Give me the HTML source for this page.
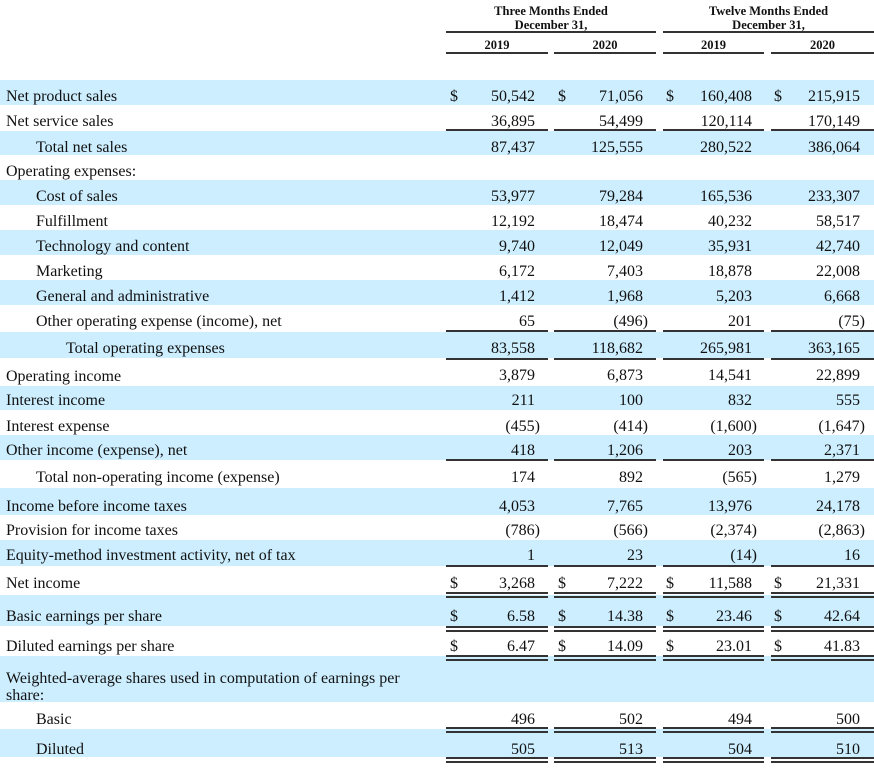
<!DOCTYPE html>
<html><head><meta charset="utf-8"><style>
body{margin:0;width:874px;height:765px;background:#fff;position:relative;overflow:hidden;font-family:"Liberation Serif",serif;font-size:16px;color:#111}
.r{position:absolute;left:0;width:874px}
.b{background:#cceeff}
.l{position:absolute;white-space:nowrap;top:2px}
.n{position:absolute;text-align:right;white-space:nowrap;top:2px}
.c1{left:440px;width:95px}.c2{left:548px;width:95px}.c3{left:656px;width:96px}.c4{left:764px;width:96px}
.d{position:absolute;top:2px}
.d1{left:450px}.d2{left:558px}.d3{left:666px}.d4{left:774px}
.p{margin-right:-5px}
.u{position:absolute;height:2px;background:#333}
.u1{left:446px;width:102px}.u2{left:554px;width:102px}.u3{left:663px;width:101px}.u4{left:771px;width:103px}
.h{position:absolute;font-weight:bold;font-size:12.5px;text-align:center;line-height:14px}
</style></head><body>
<div class="h" style="left:446px;width:210px;top:4px">Three Months Ended<br>December 31,</div>
<div class="h" style="left:663px;width:211px;top:4px">Twelve Months Ended<br>December 31,</div>
<div class="u" style="left:446px;width:210px;top:31px"></div>
<div class="u" style="left:663px;width:211px;top:31px"></div>
<div class="h" style="left:446px;width:102px;top:38px">2019</div>
<div class="h" style="left:554px;width:102px;top:38px">2020</div>
<div class="h" style="left:663px;width:101px;top:38px">2019</div>
<div class="h" style="left:771px;width:103px;top:38px">2020</div>
<div class="u u1" style="top:52px"></div><div class="u u2" style="top:52px"></div><div class="u u3" style="top:52px"></div><div class="u u4" style="top:52px"></div>

<div class="r b" style="top:80px;height:25px;line-height:29px"><span class="l" style="left:6px">Net product sales</span><span class="d d1">$</span><span class="n c1">50,542</span><span class="d d2">$</span><span class="n c2">71,056</span><span class="d d3">$</span><span class="n c3">160,408</span><span class="d d4">$</span><span class="n c4">215,915</span></div>
<div class="r" style="top:105px;height:25px;line-height:29px"><span class="l" style="left:6px">Net service sales</span><span class="n c1">36,895</span><span class="n c2">54,499</span><span class="n c3">120,114</span><span class="n c4">170,149</span></div>
<div class="u u1" style="top:129px"></div><div class="u u2" style="top:129px"></div><div class="u u3" style="top:129px"></div><div class="u u4" style="top:129px"></div>
<div class="r b" style="top:131px;height:24px;line-height:29px"><span class="l" style="left:36px">Total net sales</span><span class="n c1">87,437</span><span class="n c2">125,555</span><span class="n c3">280,522</span><span class="n c4">386,064</span></div>
<div class="r" style="top:155px;height:25px;line-height:29px"><span class="l" style="left:6px">Operating expenses:</span></div>
<div class="r b" style="top:180px;height:25px;line-height:29px"><span class="l" style="left:36px">Cost of sales</span><span class="n c1">53,977</span><span class="n c2">79,284</span><span class="n c3">165,536</span><span class="n c4">233,307</span></div>
<div class="r" style="top:205px;height:25px;line-height:29px"><span class="l" style="left:36px">Fulfillment</span><span class="n c1">12,192</span><span class="n c2">18,474</span><span class="n c3">40,232</span><span class="n c4">58,517</span></div>
<div class="r b" style="top:230px;height:25px;line-height:29px"><span class="l" style="left:36px">Technology and content</span><span class="n c1">9,740</span><span class="n c2">12,049</span><span class="n c3">35,931</span><span class="n c4">42,740</span></div>
<div class="r" style="top:255px;height:25px;line-height:29px"><span class="l" style="left:36px">Marketing</span><span class="n c1">6,172</span><span class="n c2">7,403</span><span class="n c3">18,878</span><span class="n c4">22,008</span></div>
<div class="r b" style="top:280px;height:25px;line-height:29px"><span class="l" style="left:36px">General and administrative</span><span class="n c1">1,412</span><span class="n c2">1,968</span><span class="n c3">5,203</span><span class="n c4">6,668</span></div>
<div class="r" style="top:305px;height:25px;line-height:29px"><span class="l" style="left:36px">Other operating expense (income), net</span><span class="n c1">65</span><span class="n c2">(496<span class="p">)</span></span><span class="n c3">201</span><span class="n c4">(75<span class="p">)</span></span></div>
<div class="u u1" style="top:330px"></div><div class="u u2" style="top:330px"></div><div class="u u3" style="top:330px"></div><div class="u u4" style="top:330px"></div>
<div class="r b" style="top:332px;height:26px;line-height:30px"><span class="l" style="left:66px">Total operating expenses</span><span class="n c1">83,558</span><span class="n c2">118,682</span><span class="n c3">265,981</span><span class="n c4">363,165</span></div>
<div class="u u1" style="top:358px"></div><div class="u u2" style="top:358px"></div><div class="u u3" style="top:358px"></div><div class="u u4" style="top:358px"></div>
<div class="r" style="top:360px;height:26px;line-height:30px"><span class="l" style="left:6px">Operating income</span><span class="n c1" style="line-height:27px">3,879</span><span class="n c2" style="line-height:27px">6,873</span><span class="n c3" style="line-height:27px">14,541</span><span class="n c4" style="line-height:27px">22,899</span></div>
<div class="r b" style="top:386px;height:24px;line-height:26px"><span class="l" style="left:6px">Interest income</span><span class="n c1">211</span><span class="n c2">100</span><span class="n c3">832</span><span class="n c4">555</span></div>
<div class="r" style="top:410px;height:25px;line-height:29px"><span class="l" style="left:6px">Interest expense</span><span class="n c1">(455<span class="p">)</span></span><span class="n c2">(414<span class="p">)</span></span><span class="n c3">(1,600<span class="p">)</span></span><span class="n c4">(1,647<span class="p">)</span></span></div>
<div class="r b" style="top:435px;height:25px;line-height:28px"><span class="l" style="left:6px">Other income (expense), net</span><span class="n c1">418</span><span class="n c2">1,206</span><span class="n c3">203</span><span class="n c4">2,371</span></div>
<div class="u u1" style="top:459px"></div><div class="u u2" style="top:459px"></div><div class="u u3" style="top:459px"></div><div class="u u4" style="top:459px"></div>
<div class="r" style="top:461px;height:27px;line-height:30px"><span class="l" style="left:36px">Total non-operating income (expense)</span><span class="n c1">174</span><span class="n c2">892</span><span class="n c3">(565<span class="p">)</span></span><span class="n c4">1,279</span></div>
<div class="r b" style="top:488px;height:27px;line-height:34px"><span class="l" style="left:6px">Income before income taxes</span><span class="n c1">4,053</span><span class="n c2">7,765</span><span class="n c3">13,976</span><span class="n c4">24,178</span></div>
<div class="r" style="top:515px;height:25px;line-height:27px"><span class="l" style="left:6px">Provision for income taxes</span><span class="n c1">(786<span class="p">)</span></span><span class="n c2">(566<span class="p">)</span></span><span class="n c3">(2,374<span class="p">)</span></span><span class="n c4">(2,863<span class="p">)</span></span></div>
<div class="r b" style="top:540px;height:26px;line-height:28px"><span class="l" style="left:6px">Equity-method investment activity, net of tax</span><span class="n c1">1</span><span class="n c2">23</span><span class="n c3">(14<span class="p">)</span></span><span class="n c4">16</span></div>
<div class="u u1" style="top:565px"></div><div class="u u2" style="top:565px"></div><div class="u u3" style="top:565px"></div><div class="u u4" style="top:565px"></div>
<div class="r" style="top:567px;height:28px;line-height:30px"><span class="l" style="left:6px">Net income</span><span class="d d1">$</span><span class="n c1">3,268</span><span class="d d2">$</span><span class="n c2">7,222</span><span class="d d3">$</span><span class="n c3">11,588</span><span class="d d4">$</span><span class="n c4">21,331</span></div>
<div class="r b" style="top:595px;height:31px;line-height:40px"><span class="l" style="left:6px">Basic earnings per share</span><span class="d d1">$</span><span class="n c1">6.58</span><span class="d d2">$</span><span class="n c2">14.38</span><span class="d d3">$</span><span class="n c3">23.46</span><span class="d d4">$</span><span class="n c4">42.64</span></div>
<div class="r" style="top:626px;height:30px;line-height:38px"><span class="l" style="left:6px">Diluted earnings per share</span><span class="d d1">$</span><span class="n c1">6.47</span><span class="d d2">$</span><span class="n c2">14.09</span><span class="d d3">$</span><span class="n c3">23.01</span><span class="d d4">$</span><span class="n c4">41.83</span></div>
<div class="r b" style="top:656px;height:46px;line-height:17px"><span class="l" style="left:6px;top:14px">Weighted-average shares used in computation of earnings per<br>share:</span></div>
<div class="r" style="top:702px;height:27px;line-height:32px"><span class="l" style="left:36px">Basic</span><span class="n c1">496</span><span class="n c2">502</span><span class="n c3">494</span><span class="n c4">500</span></div>
<div class="r b" style="top:729px;height:28px;line-height:38px"><span class="l" style="left:36px">Diluted</span><span class="n c1">505</span><span class="n c2">513</span><span class="n c3">504</span><span class="n c4">510</span></div>

<div class="u u1" style="top:592px"></div><div class="u u2" style="top:592px"></div><div class="u u3" style="top:592px"></div><div class="u u4" style="top:592px"></div>
<div class="u u1" style="top:596px"></div><div class="u u2" style="top:596px"></div><div class="u u3" style="top:596px"></div><div class="u u4" style="top:596px"></div>
<div class="u u1" style="top:626px"></div><div class="u u2" style="top:626px"></div><div class="u u3" style="top:626px"></div><div class="u u4" style="top:626px"></div>
<div class="u u1" style="top:630px"></div><div class="u u2" style="top:630px"></div><div class="u u3" style="top:630px"></div><div class="u u4" style="top:630px"></div>
<div class="u u1" style="top:655px"></div><div class="u u2" style="top:655px"></div><div class="u u3" style="top:655px"></div><div class="u u4" style="top:655px"></div>
<div class="u u1" style="top:659px"></div><div class="u u2" style="top:659px"></div><div class="u u3" style="top:659px"></div><div class="u u4" style="top:659px"></div>
<div class="u u1" style="top:727px"></div><div class="u u2" style="top:727px"></div><div class="u u3" style="top:727px"></div><div class="u u4" style="top:727px"></div>
<div class="u u1" style="top:731px"></div><div class="u u2" style="top:731px"></div><div class="u u3" style="top:731px"></div><div class="u u4" style="top:731px"></div>
<div class="u u1" style="top:757px"></div><div class="u u2" style="top:757px"></div><div class="u u3" style="top:757px"></div><div class="u u4" style="top:757px"></div>
<div class="u u1" style="top:761px"></div><div class="u u2" style="top:761px"></div><div class="u u3" style="top:761px"></div><div class="u u4" style="top:761px"></div>
</body></html>
